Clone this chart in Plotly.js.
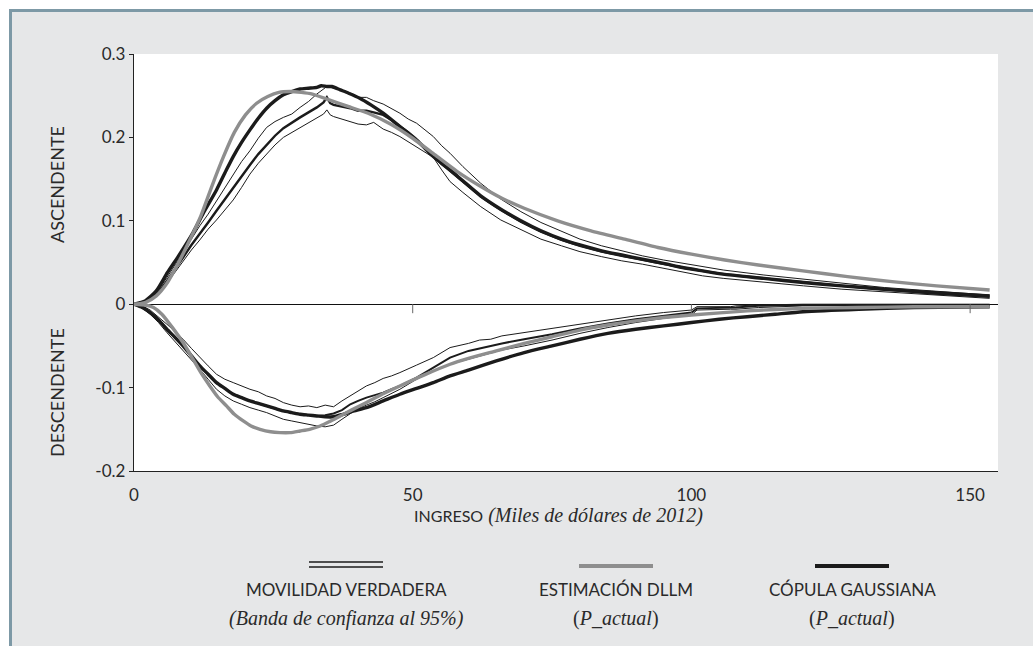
<!DOCTYPE html>
<html>
<head>
<meta charset="utf-8">
<script src="https://cdn.plot.ly/plotly-3.0.1.min.js"></script>
<style>
  html, body { margin:0; padding:0; background:#ffffff; width:1033px; height:646px; overflow:hidden; }
  #frame { position:absolute; left:9px; top:9px; right:0; bottom:0; background:#e6e7e8;
           border-top:3px solid #7d99a6; border-left:3px solid #7d99a6; }
  #chart { position:absolute; left:0; top:0; width:1033px; height:646px; }
</style>
</head>
<body>
<div id="frame"></div>
<div id="chart"></div>
<script>
// ---------------- DATA ----------------
// Ascending (upper) true-mobility band: shared income grid (thousand 2012 USD)
const xUpBand = [0,1.5,3,4.5,5.9,7.4,8.8,10.3,11.8,13.3,14.8,16.3,17.8,19.3,20.8,22.3,23.8,25.3,26.8,28.3,
  29.8,31.3,32.8,34,34.6,35.2,35.8,37.3,38.8,40.2,41.7,43,44.7,46.2,47.7,49.2,50.7,52.2,53.7,55.2,
  56.7,59,62.2,65.8,69.4,73,76.7,80,83.9,87.5,91.2,95,98.4,102,105.7,113,120.1,127,134.6,143,153.5];
const upBandHi = [0,0.003,0.008,0.018,0.032,0.047,0.062,0.078,0.094,0.108,0.124,0.140,0.156,0.171,0.184,
  0.199,0.212,0.219,0.224,0.228,0.236,0.243,0.252,0.258,0.261,0.260,0.259,0.257,0.253,0.248,
  0.248,0.244,0.240,0.235,0.229,0.222,0.217,0.209,0.201,0.190,0.181,0.165,0.145,0.126,0.111,
  0.098,0.087,0.078,0.070,0.064,0.058,0.053,0.049,0.045,0.041,0.035,0.030,0.025,0.020,0.016,0.011];
const upBandMid = [0,0.002,0.006,0.015,0.028,0.042,0.056,0.071,0.084,0.098,0.112,0.126,0.139,0.154,0.167,
  0.180,0.191,0.202,0.211,0.218,0.224,0.230,0.236,0.242,0.248,0.241,0.239,0.237,0.235,0.232,
  0.232,0.230,0.227,0.221,0.214,0.206,0.197,0.187,0.177,0.168,0.160,0.147,0.129,0.113,0.099,
  0.087,0.077,0.070,0.063,0.058,0.053,0.048,0.044,0.040,0.036,0.031,0.026,0.022,0.018,0.013,0.009];
const upBandLo = [0,0.001,0.005,0.013,0.025,0.039,0.052,0.065,0.077,0.090,0.101,0.113,0.125,0.140,0.156,
  0.169,0.180,0.191,0.200,0.206,0.212,0.218,0.224,0.228,0.233,0.227,0.225,0.222,0.219,0.216,
  0.215,0.218,0.210,0.206,0.201,0.195,0.189,0.183,0.176,0.161,0.147,0.134,0.117,0.101,0.089,
  0.078,0.070,0.063,0.057,0.052,0.048,0.043,0.038,0.034,0.031,0.026,0.022,0.018,0.015,0.011,0.007];

// Descending (lower) true-mobility band
const xDnBand = [0,1.5,2.9,4.4,5.9,7.4,8.8,10.3,11.8,13.3,14.8,16.3,17.8,19.3,20.8,22.3,23.8,25.3,26.8,28.3,
  29.8,31.3,32.8,34.3,35.8,37.3,38.8,40.2,41.7,43.2,44.7,46.2,47.7,50.7,53.7,56.7,60,62,64,66,
  70,75,80,85,90,95,100,101,107,108,112,120,153.5];
const dnBandHi = [0,-0.002,-0.007,-0.015,-0.024,-0.033,-0.042,-0.053,-0.064,-0.074,-0.084,-0.090,-0.094,-0.098,-0.102,
  -0.105,-0.110,-0.113,-0.118,-0.121,-0.123,-0.122,-0.124,-0.121,-0.123,-0.116,-0.110,-0.104,-0.098,-0.094,
  -0.089,-0.086,-0.082,-0.073,-0.064,-0.052,-0.047,-0.043,-0.042,-0.038,-0.034,-0.029,-0.024,-0.019,-0.014,
  -0.010,-0.007,-0.003,-0.003,-0.002,-0.001,0,0];
const dnBandMid = [0,-0.004,-0.010,-0.019,-0.030,-0.040,-0.050,-0.062,-0.074,-0.084,-0.094,-0.101,-0.108,-0.112,-0.116,
  -0.119,-0.122,-0.125,-0.128,-0.130,-0.132,-0.133,-0.134,-0.133,-0.131,-0.127,-0.120,-0.116,-0.112,-0.109,
  -0.106,-0.102,-0.098,-0.088,-0.076,-0.064,-0.056,-0.053,-0.050,-0.047,-0.042,-0.036,-0.029,-0.023,-0.018,
  -0.014,-0.010,-0.005,-0.004,-0.004,-0.002,-0.001,-0.001];
const dnBandLo = [0,-0.005,-0.012,-0.022,-0.034,-0.045,-0.056,-0.067,-0.078,-0.090,-0.102,-0.110,-0.116,-0.120,-0.124,
  -0.127,-0.130,-0.134,-0.138,-0.140,-0.142,-0.144,-0.146,-0.147,-0.145,-0.138,-0.131,-0.125,-0.121,-0.117,
  -0.112,-0.107,-0.102,-0.090,-0.080,-0.072,-0.066,-0.062,-0.059,-0.055,-0.050,-0.043,-0.035,-0.028,-0.022,
  -0.017,-0.013,-0.007,-0.006,-0.006,-0.004,-0.002,-0.001];

// DLLM estimate (P_actual)
const xDllmUp = [0,2,4,6,8,10,12,14,16,18,20,22,24,26,28,30,32,35,38,42,46,50,54,58,62,66,70,76,82,88,94,100,106,112,120,128,136,144,153.5];
const dllmUp = [0,0.002,0.010,0.026,0.050,0.077,0.106,0.142,0.176,0.206,0.227,0.241,0.249,0.254,0.255,0.254,0.252,0.245,0.238,
  0.229,0.216,0.199,0.179,0.159,0.142,0.127,0.115,0.100,0.088,0.078,0.068,0.060,0.053,0.047,0.040,0.033,0.027,0.022,0.017];
const xDllmDn = [0,2,3.5,5,7,9,10.6,12,13.6,15,16.6,18,19.6,21,22.6,24.5,26.2,28,29.8,31.5,33.4,35,37,39,41.7,44.5,47.7,52,56.7,60,
  65,70,75,80,85,90,95,100,110,120,130,140,153.5];
const dllmDn = [0,-0.001,-0.004,-0.012,-0.029,-0.048,-0.066,-0.082,-0.098,-0.111,-0.122,-0.132,-0.140,-0.146,-0.150,-0.153,-0.154,-0.154,
  -0.152,-0.150,-0.146,-0.141,-0.134,-0.127,-0.118,-0.108,-0.098,-0.085,-0.072,-0.065,-0.056,-0.047,-0.039,-0.031,-0.025,-0.020,
  -0.016,-0.013,-0.008,-0.005,-0.004,-0.003,-0.003];

// Gaussian copula (P_actual)
const xCopUp = [0,2,4,6,8,10.6,12.5,14.8,16.5,17.8,19.3,20.8,22.3,23.8,25.3,26.8,28.3,29.8,31.3,32.8,33.6,34.6,35.5,37,38.5,
  40.5,42.5,44.7,47.7,50.7,53.7,56.7,59,62.2,65.8,69.4,73,76.7,80,83.9,87.5,91.2,95,98.4,102,105.7,113,120.1,127,134.6,143,153.5];
const copUp = [0,0.004,0.016,0.038,0.058,0.086,0.110,0.137,0.160,0.177,0.194,0.209,0.223,0.235,0.244,0.251,0.255,0.258,0.259,0.260,
  0.262,0.261,0.261,0.257,0.253,0.247,0.239,0.229,0.213,0.197,0.177,0.161,0.148,0.130,0.114,0.100,0.088,0.078,0.071,0.064,
  0.059,0.054,0.049,0.044,0.040,0.036,0.031,0.026,0.022,0.018,0.014,0.010];
const xCopDn = [0,1.5,2.9,4.4,5.9,7.4,8.8,10.3,11.8,13.3,14.8,16.3,17.8,19.3,20.8,22.3,23.8,25.3,26.8,28.3,29.8,31.3,32.8,34.3,35.8,
  37.5,39.5,41.7,44.7,47.7,50.7,53.7,56.7,60,65,70,75,80,85,90,95,100,105,110,115,120,130,140,153.5];
const copDn = [0,-0.004,-0.010,-0.019,-0.030,-0.040,-0.050,-0.062,-0.074,-0.084,-0.094,-0.101,-0.108,-0.112,-0.116,-0.119,-0.122,
  -0.125,-0.128,-0.130,-0.132,-0.133,-0.134,-0.135,-0.135,-0.132,-0.128,-0.124,-0.116,-0.108,-0.101,-0.094,-0.086,-0.079,-0.068,
  -0.058,-0.050,-0.042,-0.035,-0.030,-0.026,-0.022,-0.018,-0.015,-0.012,-0.009,-0.006,-0.004,-0.003];

// Axis ticks and labels
const xTickVals = [0,50,100,150];
const xTickText = ['0','50','100','150'];
const zeroTickVals = [50,100,150];
const yTickVals = [-0.2,-0.1,0,0.1,0.2,0.3];
const yTickText = ['-0.2','-0.1','0','0.1','0.2','0.3'];

const xTitleCaps = 'INGRESO';
const xTitleRest = '(Miles de dólares de 2012)';
const yTitleUp = 'ASCENDENTE';
const yTitleDn = 'DESCENDENTE';
const legendNames = ['MOVILIDAD VERDADERA','ESTIMACIÓN DLLM','CÓPULA GAUSSIANA'];
const legendSubs = ['<i>(Banda de confianza al 95%)</i>','(<i>P_actual</i>)','(<i>P_actual</i>)'];

// ---------------- STYLE / LAYOUT ----------------
const W = 1033, H = 646;
const M = {l:134, r:35, t:54, b:175};
const PW = W - M.l - M.r, PH = H - M.t - M.b;
const px = x => (x - M.l) / PW;
const py = y => (H - M.b - y) / PH;

const BLACK = '#1b1b1b', GRAY = '#8e8e8e', TXT = '#2a2a2a';
const SANS = 'Lato, "Open Sans", sans-serif';
const SERIF = '"Liberation Serif", "DejaVu Serif", serif';

function line(x, y, color, width, shape) {
  return {type:'scatter', mode:'lines', x:x, y:y, hoverinfo:'skip', showlegend:false,
          line:{color:color, width:width, shape:shape || 'linear', smoothing:0.6}};
}

const traces = [
  line(xUpBand, upBandHi, BLACK, 1),
  line(xUpBand, upBandLo, BLACK, 1),
  line(xDnBand, dnBandHi, BLACK, 1),
  line(xDnBand, dnBandLo, BLACK, 1),
  line(xUpBand, upBandMid, BLACK, 2.4),
  line(xDnBand, dnBandMid, BLACK, 2),
  line(xCopUp, copUp, BLACK, 3.4, 'spline'),
  line(xCopDn, copDn, BLACK, 3.4, 'spline'),
  line(xDllmUp, dllmUp, GRAY, 3.4, 'spline'),
  line(xDllmDn, dllmDn, GRAY, 3.4, 'spline')
];

const shapes = zeroTickVals.map(t => ({
  type:'line', xref:'x', yref:'y', ysizemode:'pixel', yanchor:0,
  x0:t, x1:t, y0:0, y1:-9, line:{color:'#666', width:1}
}));

// legend samples
const legCx = [346, 616, 852];
const legHalf = 37;
shapes.push({type:'line', xref:'paper', yref:'paper', x0:px(legCx[0]-legHalf), x1:px(legCx[0]+legHalf), y0:py(562), y1:py(562), line:{color:BLACK, width:1.3}});
shapes.push({type:'line', xref:'paper', yref:'paper', x0:px(legCx[0]-legHalf), x1:px(legCx[0]+legHalf), y0:py(567), y1:py(567), line:{color:BLACK, width:1.3}});
shapes.push({type:'line', xref:'paper', yref:'paper', x0:px(legCx[1]-legHalf), x1:px(legCx[1]+legHalf), y0:py(566), y1:py(566), line:{color:GRAY, width:4}});
shapes.push({type:'line', xref:'paper', yref:'paper', x0:px(legCx[2]-legHalf), x1:px(legCx[2]+legHalf), y0:py(566), y1:py(566), line:{color:BLACK, width:4}});

const annotations = [];
function ann(text, x, y, font, extra) {
  annotations.push(Object.assign({text:text, xref:'paper', yref:'paper', x:px(x), y:py(y),
    xanchor:'center', yanchor:'middle', showarrow:false, font:font}, extra || {}));
}
for (let i = 0; i < 3; i++) {
  ann(legendNames[i], legCx[i], 589, {family:SANS, size:17, color:TXT});
  ann(legendSubs[i], legCx[i], 618, {family:SERIF, size:20, color:TXT});
}
ann('<span style="font-family:Lato;font-size:16px">' + xTitleCaps + '</span> ' + '<i>' + xTitleRest + '</i>',
    558, 515, {family:SERIF, size:20, color:TXT});
ann(yTitleUp, 57, 185, {family:SANS, size:18, color:TXT}, {textangle:-90});
ann(yTitleDn, 57, 393, {family:SANS, size:18, color:TXT}, {textangle:-90});

const layout = {
  width:W, height:H, margin:M,
  paper_bgcolor:'rgba(0,0,0,0)', plot_bgcolor:'#ffffff',
  showlegend:false,
  xaxis:{range:[0,155], tickvals:xTickVals, ticktext:xTickText, showgrid:false, zeroline:false,
         showline:true, linecolor:'#222', linewidth:1.2, ticks:'', ticklabelstandoff:8,
         tickfont:{family:SANS, size:17, color:TXT}, fixedrange:true},
  yaxis:{range:[-0.2,0.3], tickvals:yTickVals, ticktext:yTickText, showgrid:false,
         zeroline:true, zerolinecolor:'#111', zerolinewidth:1,
         showline:true, linecolor:'#222', linewidth:1.2, ticks:'outside', ticklen:4, tickcolor:'#222',
         tickfont:{family:SANS, size:17, color:TXT}, fixedrange:true},
  shapes:shapes, annotations:annotations
};

Plotly.newPlot('chart', traces, layout, {staticPlot:true, displayModeBar:false});
</script>
</body>
</html>
